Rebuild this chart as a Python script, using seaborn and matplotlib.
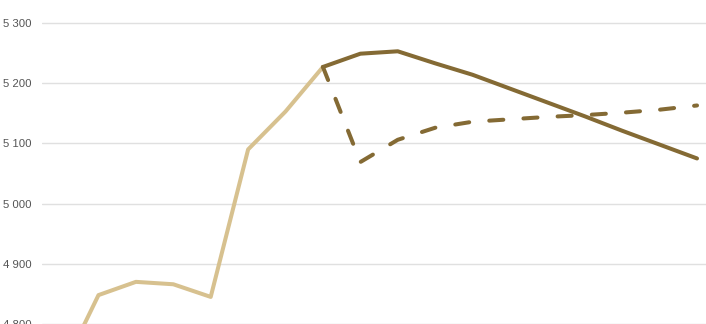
import matplotlib
matplotlib.use("Agg")
import matplotlib.pyplot as plt
import seaborn as sns
import pandas as pd

# Data (index positions along the time axis)
hist_idx = [0, 1, 2, 3, 4, 5, 6, 7]
hist_vals = [4720, 4848, 4870, 4866, 4845, 5090, 5153, 5227]

fc_idx = [7, 8, 9, 10, 11, 12, 13, 14, 15, 16, 17]
fc_solid = [5227, 5249, 5253, 5233, 5214, 5191, 5168, 5145, 5121, 5098, 5075]
fc_dashed = [5227, 5069, 5106, 5126, 5136, 5140, 5144, 5147, 5151, 5156, 5163]

y_ticks = [4800, 4900, 5000, 5100, 5200, 5300]
y_labels = ["4 800", "4 900", "5 000", "5 100", "5 200", "5 300"]

LIGHT = "#D7C18F"
DARK = "#846A34"

sns.set_theme(style="white")
plt.rcParams["font.family"] = ["Liberation Sans", "DejaVu Sans"]

W, H = 706, 324
fig = plt.figure(figsize=(W / 100, H / 100), dpi=100)
ax = fig.add_axes([42 / W, 0, 1 - 42 / W, 1])

lw = 2.9
df_h = pd.DataFrame({"x": hist_idx, "y": hist_vals})
df_s = pd.DataFrame({"x": fc_idx, "y": fc_solid})
df_d = pd.DataFrame({"x": fc_idx, "y": fc_dashed})

sns.lineplot(data=df_h, x="x", y="y", ax=ax, color=LIGHT, linewidth=lw)
sns.lineplot(data=df_d, x="x", y="y", ax=ax, color=DARK, linewidth=lw)
ln_d = ax.lines[-1]
ln_d.set_dashes((3.5, 5.0))
ln_d.set_dash_capstyle("round")
sns.lineplot(data=df_s, x="x", y="y", ax=ax, color=DARK, linewidth=lw)
for ln in ax.lines:
    ln.set_solid_capstyle("round")
    ln.set_solid_joinstyle("round")
    ln.set_dash_joinstyle("round")

ax.set_xlim(-0.51, 17.24)
ax.set_ylim(4800, 5338.2)
ax.set_yticks(y_ticks)
ax.set_yticklabels(y_labels)
ax.set_xticks([])
ax.set_xlabel("")
ax.set_ylabel("")
ax.grid(axis="y", color="#E0E0E0", linewidth=1.0)
ax.set_axisbelow(True)
for s in ax.spines.values():
    s.set_visible(False)
ax.tick_params(axis="y", length=0, pad=7.5, labelsize=8.2, labelcolor="#555555")
ax.patch.set_alpha(0)

fig.savefig("out.png", dpi=100)
